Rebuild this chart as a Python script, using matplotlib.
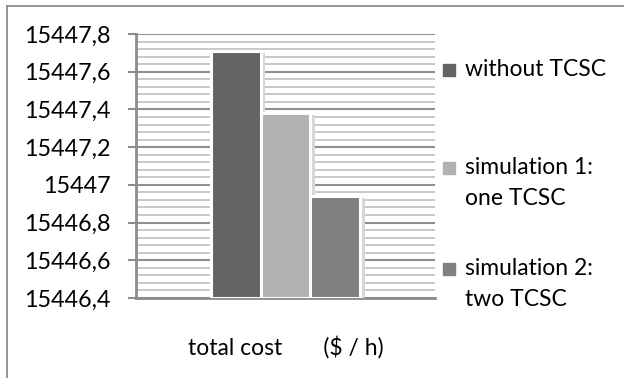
import matplotlib
matplotlib.use("Agg")
import matplotlib.pyplot as plt
import matplotlib.patheffects as pe
from matplotlib.patches import Rectangle
from matplotlib.lines import Line2D
from matplotlib.ticker import MultipleLocator

plt.rcParams['font.family'] = ['Lato', 'DejaVu Sans']

category = "total cost       ($ / h)"
series_names = ["without TCSC", "simulation 1:\none TCSC", "simulation 2:\ntwo TCSC"]
series_values = [15447.71, 15447.38, 15446.94]
series_colors = ["#646464", "#b2b2b2", "#808080"]
y_ticks = [15446.4, 15446.6, 15446.8, 15447.0, 15447.2, 15447.4, 15447.6, 15447.8]
y_tick_labels = ["15446,4", "15446,6", "15446,8", "15447", "15447,2", "15447,4", "15447,6", "15447,8"]

W, H = 624, 378
fig = plt.figure(figsize=(W / 100, H / 100), dpi=100)
ax = fig.add_axes([136 / W, 1 - 298 / H, (435 - 136) / W, (298 - 34) / H])

# outer chart border (left and top visible)
fig.add_artist(Line2D([7 / W, 7 / W], [0, 1 - 6 / H], transform=fig.transFigure,
                      color="#8c8c8c", lw=1.3))
fig.add_artist(Line2D([7 / W, 1], [1 - 6 / H, 1 - 6 / H], transform=fig.transFigure,
                      color="#8c8c8c", lw=1.3))

ax.set_ylim(y_ticks[0], y_ticks[-1])
ax.set_xlim(-0.5, 0.5)
ax.set_yticks(y_ticks)
ax.set_yticklabels(y_tick_labels)
ax.yaxis.set_minor_locator(MultipleLocator(0.04))
ax.grid(True, axis="y", which="major", color="#8f8f8f", lw=1.5)
ax.grid(True, axis="y", which="minor", color="#c4c4c4", lw=1.3)
ax.set_axisbelow(True)

bw = 1 / 6
n = len(series_values)
for i, (v, c) in enumerate(zip(series_values, series_colors)):
    x = (i - (n - 1) / 2) * bw
    ax.bar(x, v - y_ticks[0], bottom=y_ticks[0], width=bw, color=c,
           edgecolor="white", lw=2.2, zorder=3,
           path_effects=[pe.SimplePatchShadow(offset=(3.5, -1.5), shadow_rgbFace="#d6d6d6", alpha=1),
                         pe.Normal()])

ax.set_xticks([0])
ax.set_xticklabels([category], fontsize=16.5)
ax.tick_params(axis="x", length=0, pad=27)
ax.tick_params(axis="y", which="major", length=6, width=1.5, color="#8c8c8c",
               labelsize=16.8, pad=12)
ax.tick_params(axis="y", which="minor", length=0)

for s in ["top", "right"]:
    ax.spines[s].set_visible(False)
for s in ["left", "bottom"]:
    ax.spines[s].set_color("#8c8c8c")
    ax.spines[s].set_linewidth(2)

# legend
legend_y = [70, 168, 269]
for name, c, y in zip(series_names, series_colors, legend_y):
    fig.add_artist(Rectangle((443 / W, 1 - (y + 6) / H), 12 / W, 12 / H,
                             transform=fig.transFigure, color=c))
    fig.text(465 / W, 1 - (y - 11) / H, name, fontsize=16.5, va="top", ha="left",
             linespacing=1.6, color="#000000")

fig.savefig("out.png", dpi=100, facecolor="white")
